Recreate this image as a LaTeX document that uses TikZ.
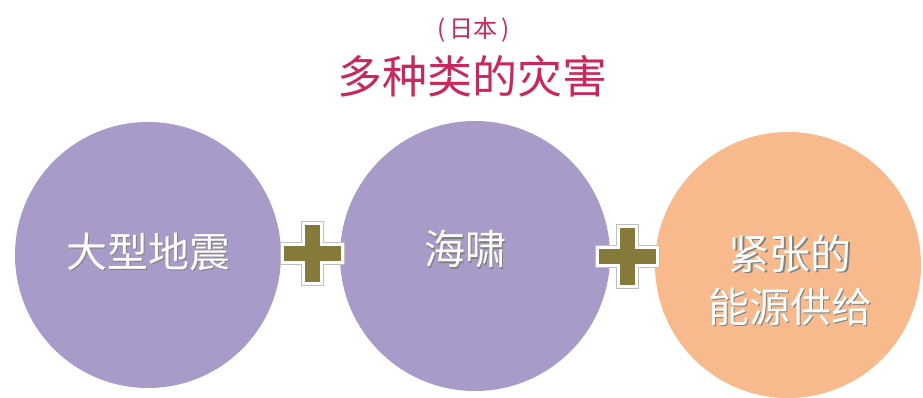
\documentclass[tikz,border=0pt]{standalone}
\usepackage{fontspec}
\setmainfont{Noto Sans CJK SC}
\definecolor{lav}{HTML}{A99BC9}
\definecolor{peach}{HTML}{F8BA8C}
\definecolor{olive}{HTML}{857A3A}
\definecolor{crim}{HTML}{C8285C}
\begin{document}
\begin{tikzpicture}[x=1pt,y=-1pt,
  disc/.style={circle,minimum size=#1,inner sep=0pt},
  lbl/.style={text=white,font=\fontsize{41}{53}\selectfont,align=center},
  shd/.style={text=black!50,font=\fontsize{41}{53}\selectfont,align=center},
  plusbar/.style={fill=olive,draw=white,line width=3pt},
]
\useasboundingbox (0,0) rectangle (923,398);
\fill[white] (0,0) rectangle (923,398);
\node[text=crim,font=\fontsize{24}{28}\selectfont] (sub) at (474,30) {(\,日本\,)};
\node[text=crim,font=\fontsize{45}{52}\selectfont] (title) at (472,76) {多种类的灾害};
\node[disc=266pt,fill=lav] (c1) at (148,255) {};
\node[disc=270pt,fill=lav] (c2) at (475,256) {};
\node[disc=266pt,fill=peach] (c3) at (788,265) {};
% plus signs
\foreach \n/\cx/\cy in {p1/312/253,p2/627/256}{
  \draw[black!25,line width=5pt,line join=miter]
    (\cx-9,\cy-30) -- (\cx+9,\cy-30) -- (\cx+9,\cy-9) -- (\cx+30,\cy-9) -- (\cx+30,\cy+9) -- (\cx+9,\cy+9) -- (\cx+9,\cy+30) -- (\cx-9,\cy+30) -- (\cx-9,\cy+9) -- (\cx-30,\cy+9) -- (\cx-30,\cy-9) -- (\cx-9,\cy-9) -- cycle;
  \filldraw[plusbar,line join=miter]
    (\cx-9,\cy-30) -- (\cx+9,\cy-30) -- (\cx+9,\cy-9) -- (\cx+30,\cy-9) -- (\cx+30,\cy+9) -- (\cx+9,\cy+9) -- (\cx+9,\cy+30) -- (\cx-9,\cy+30) -- (\cx-9,\cy+9) -- (\cx-30,\cy+9) -- (\cx-30,\cy-9) -- (\cx-9,\cy-9) -- cycle;
  \coordinate (\n) at (\cx,\cy);
}
\node[shd] at ([shift={(1.5,-1.5)}]c1.center) {大型地震};
\node[lbl] (t1) at ([shift={(0,-3)}]c1.center) {大型地震};
\node[shd] at ([shift={(-8.5,-5.5)}]c2.center) {海啸};
\node[lbl] (t2) at ([shift={(-10,-7)}]c2.center) {海啸};
\node[shd] at ([shift={(3.5,16.5)}]c3.center) {紧张的\\能源供给};
\node[lbl] (t3) at ([shift={(2,15)}]c3.center) {紧张的\\能源供给};
\end{tikzpicture}
\end{document}
